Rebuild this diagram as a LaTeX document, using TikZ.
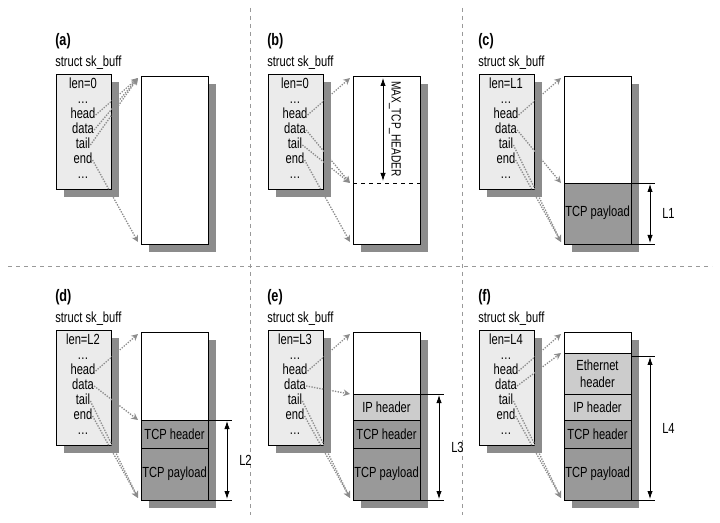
\documentclass[tikz,border=0pt]{standalone}
\usepackage{fontspec}
\setmainfont{Liberation Sans}[FakeStretch=0.76]
\usetikzlibrary{arrows.meta}
\tikzset{
 shadow/.style={fill=black!45,draw=none},
 ptr/.style={densely dotted,draw=black!45,line width=1pt,-{Stealth[length=5pt,width=5pt]}},
 buf/.style={draw=black,fill=white,line width=0.6pt},
 dark/.style={draw=black,fill=black!40,line width=0.6pt},
 light/.style={draw=black,fill=black!20,line width=0.6pt},
 lenarr/.style={line width=0.6pt,{Latex[length=6pt,width=4pt]}-{Latex[length=6pt,width=4pt]}},
 sep/.style={draw=black!40,dashed,line width=0.6pt},
 txt/.style={inner sep=0pt,font=\fontsize{11}{13}\selectfont},
 fld/.style={txt,text height=6.5pt,text depth=1.5pt}
}
% #1 prefix, #2 dx, #3 dy, #4 label, #5 len
\newcommand\skpanel[5]{%
 \begin{scope}[shift={(#2,#3)}]
  \node[txt,anchor=west,font=\bfseries\fontsize{12.5}{14}\selectfont] (#1lab) at (55,41) {(#4)};
  \node[txt,anchor=west] (#1st) at (55,63) {struct sk\_buff};
  \fill[shadow] (64,82) rectangle (119,197);
  \fill[shadow] (149,84) rectangle (216,252);
  \draw[fill=black!8,line width=0.6pt] (56,74) rectangle (111,189);
  \node[fld] (#1len) at (83,85) {len=#5};
  \node[fld] (#1d1) at (83,100) {\dots};
  \node[fld] (#1head) at (83,115) {head};
  \node[fld] (#1data) at (83,130) {data};
  \node[fld] (#1tail) at (83,145) {tail};
  \node[fld] (#1end) at (83,160) {end};
  \node[fld] (#1d2) at (83,175) {\dots};
  \draw[buf] (141,76) rectangle (208,244);
  \coordinate (#1top) at (138,78);
  \coordinate (#1bot) at (138,242);
 \end{scope}}
\begin{document}
\begin{tikzpicture}[x=0.75pt,y=-0.75pt]
\useasboundingbox (0,0) rectangle (720,523);
\draw[sep] (250,8) -- (250,515);
\draw[sep] (462,8) -- (462,515);
\draw[sep] (8,266) -- (712,266);

% (a)
\skpanel{a}{0}{0}{a}{0}
\draw[ptr] (ahead.east) -- (atop);
\draw[ptr] (adata.east) -- (atop);
\draw[ptr] (atail.east) -- (atop);
\draw[ptr] (aend.east) -- (abot);

% (b)
\skpanel{b}{212}{0}{b}{0}
\draw[dashed,line width=0.6pt] (353,183) -- (420,183);
\coordinate (bmid) at (350,183);
\draw[ptr] (bhead.east) -- (btop);
\draw[ptr] (bdata.east) -- (bmid);
\draw[ptr] (btail.east) -- (bmid);
\draw[ptr] (bend.east) -- (bbot);
\coordinate (bm1) at (383,78);
\coordinate (bm2) at (383,181);
\draw[lenarr] (bm1) -- (bm2);
\node[txt,rotate=-90,font=\fontsize{10}{12}\selectfont] (bmax) at (395,129) {MAX\_TCP\_HEADER};

% (c)
\skpanel{c}{423}{0}{c}{L1}
\draw[dark] (564,183) rectangle (631,244);
\node[txt] (cpay) at (597.5,213) {TCP payload};
\coordinate (cmid) at (561,183);
\draw[ptr] (chead.east) -- (ctop);
\draw[ptr] (cdata.east) -- (cmid);
\draw[ptr] (ctail.east) -- (cbot);
\draw[ptr] (cend.east) -- (cbot);
\draw[line width=0.6pt] (631,183) -- (655,183) (631,244) -- (655,244);
\coordinate (c1) at (650,184); \coordinate (c2) at (650,243);
\draw[lenarr] (c1) -- (c2);
\node[txt,anchor=west] (cL) at (662,213) {L1};

% (d)
\skpanel{d}{0}{256}{d}{L2}
\draw[dark] (141,420) rectangle (208,448);
\draw[dark] (141,448) rectangle (208,500);
\node[txt] (dtcph) at (174.5,434) {TCP header};
\node[txt] (dpay) at (174.5,474) {TCP payload};
\coordinate (dmid) at (138,420);
\draw[ptr] (dhead.east) -- (dtop);
\draw[ptr] (ddata.east) -- (dmid);
\draw[ptr] (dtail.east) -- (dbot);
\draw[ptr] (dend.east) -- (dbot);
\draw[line width=0.6pt] (208,420) -- (232,420) (208,500) -- (232,500);
\coordinate (d1) at (227,421); \coordinate (d2) at (227,499);
\draw[lenarr] (d1) -- (d2);
\node[txt,anchor=west] (dL) at (239,460) {L2};

% (e)
\skpanel{e}{212}{256}{e}{L3}
\draw[light] (353,394) rectangle (420,420);
\draw[dark] (353,420) rectangle (420,448);
\draw[dark] (353,448) rectangle (420,500);
\node[txt] (eip) at (386.5,407) {IP header};
\node[txt] (etcph) at (386.5,434) {TCP header};
\node[txt] (epay) at (386.5,474) {TCP payload};
\coordinate (emid) at (350,394);
\draw[ptr] (ehead.east) -- (etop);
\draw[ptr] (edata.east) -- (emid);
\draw[ptr] (etail.east) -- (ebot);
\draw[ptr] (eend.east) -- (ebot);
\draw[line width=0.6pt] (420,394) -- (444,394) (420,500) -- (444,500);
\coordinate (e1) at (439,395); \coordinate (e2) at (439,499);
\draw[lenarr] (e1) -- (e2);
\node[txt,anchor=west] (eL) at (451,447) {L3};

% (f)
\skpanel{f}{423}{256}{f}{L4}
\draw[light] (564,353) rectangle (631,394);
\draw[light] (564,394) rectangle (631,420);
\draw[dark] (564,420) rectangle (631,448);
\draw[dark] (564,448) rectangle (631,500);
\node[txt,align=center] (feth) at (597.5,373.5) {Ethernet\\header};
\node[txt] (fip) at (597.5,407) {IP header};
\node[txt] (ftcph) at (597.5,434) {TCP header};
\node[txt] (fpay) at (597.5,474) {TCP payload};
\coordinate (fmid) at (561,353);
\draw[ptr] (fhead.east) -- (ftop);
\draw[ptr] (fdata.east) -- (fmid);
\draw[ptr] (ftail.east) -- (fbot);
\draw[ptr] (fend.east) -- (fbot);
\draw[line width=0.6pt] (631,356) -- (655,356) (631,500) -- (655,500);
\coordinate (f1) at (650,357); \coordinate (f2) at (650,499);
\draw[lenarr] (f1) -- (f2);
\node[txt,anchor=west] (fL) at (662,428) {L4};
\end{tikzpicture}
\end{document}
